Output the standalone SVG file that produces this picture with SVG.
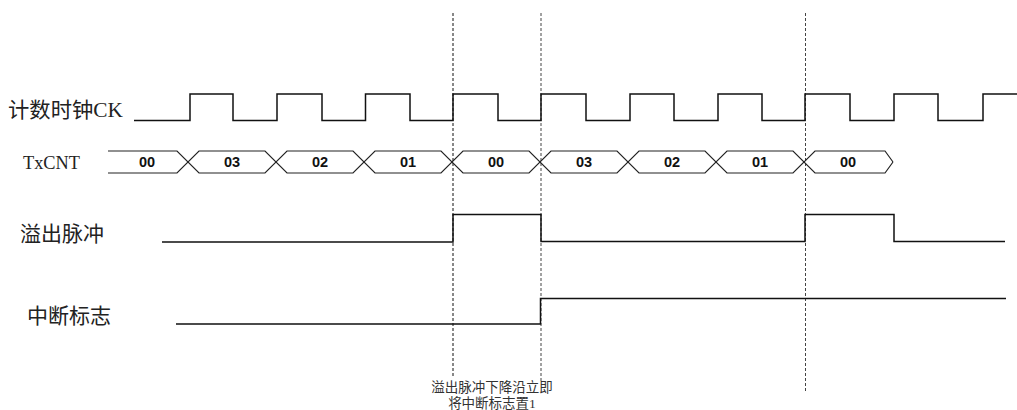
<svg xmlns="http://www.w3.org/2000/svg" width="1017" height="410" viewBox="0 0 1017 410">
<style>
.sig{fill:none;stroke:#111;stroke-width:1.5;stroke-linejoin:miter}
.bus{fill:none;stroke:#222;stroke-width:1.2}
.dash{fill:none;stroke-width:1;stroke-dasharray:3,2}
.lbl{font-family:"Liberation Serif","Noto Sans CJK SC",serif;fill:#222}
.val{font-family:"Liberation Sans",sans-serif;font-weight:bold;font-size:14.5px;fill:#111;text-anchor:middle}
.note{font-family:"Liberation Serif","Noto Sans CJK SC",serif;font-size:13.5px;fill:#333;text-anchor:middle}
</style>
<rect width="1017" height="410" fill="#fff"/>
<g id="guides">
<line class="dash" x1="453" y1="13" x2="453" y2="376" stroke="#111"/>
<line class="dash" x1="541" y1="13" x2="541" y2="381" stroke="#444"/>
<line class="dash" x1="805.5" y1="13" x2="805.5" y2="392" stroke="#444"/>
</g>
<g id="clock">
<text class="lbl" x="8" y="117" font-size="21" textLength="115" lengthAdjust="spacingAndGlyphs">计数时钟CK</text>
<path class="sig" d="M134,120.5 H190 V94 H233 V120.5 H277 V94 H322 V120.5 H365.5 V94 H410 V120.5 H453 V94 H498 V120.5 H541 V94 H586 V120.5 H630 V94 H674 V120.5 H718 V94 H762 V120.5 H805 V94 H850 V120.5 H894 V94 H938 V120.5 H983 V94 H1017"/>
</g>
<g id="txcnt">
<text class="lbl" x="23" y="169" font-size="19" textLength="57" lengthAdjust="spacingAndGlyphs">TxCNT</text>
<polyline class="bus" points="108,151 177,151 199,173 265,173 287,151 353,151 375,173 441,173 463,151 529,151 551,173 617,173 639,151 705,151 727,173 793,173 815,151 885,151 893,162"/>
<polyline class="bus" points="108,173 177,173 199,151 265,151 287,173 353,173 375,151 441,151 463,173 529,173 551,151 617,151 639,173 705,173 727,151 793,151 815,173 885,173 893,162"/>
<text class="val" x="147" y="167">00</text>
<text class="val" x="232" y="167">03</text>
<text class="val" x="320" y="167">02</text>
<text class="val" x="408" y="167">01</text>
<text class="val" x="496" y="167">00</text>
<text class="val" x="584" y="167">03</text>
<text class="val" x="672" y="167">02</text>
<text class="val" x="760" y="167">01</text>
<text class="val" x="848" y="167">00</text>
</g>
<g id="overflow">
<text class="lbl" x="20" y="241" font-size="21">溢出脉冲</text>
<path class="sig" d="M162,242 H453 V214.5 H541 V241.5 H805 V214.5 H894 V241.5 H1005"/>
</g>
<g id="interrupt">
<text class="lbl" x="27" y="323" font-size="21">中断标志</text>
<path class="sig" d="M176,324 H540.5 V298.5 H1006"/>
</g>
<g id="note">
<text class="note" x="492" y="392">溢出脉冲下降沿立即</text>
<text class="note" x="492" y="408">将中断标志置1</text>
</g>
</svg>
